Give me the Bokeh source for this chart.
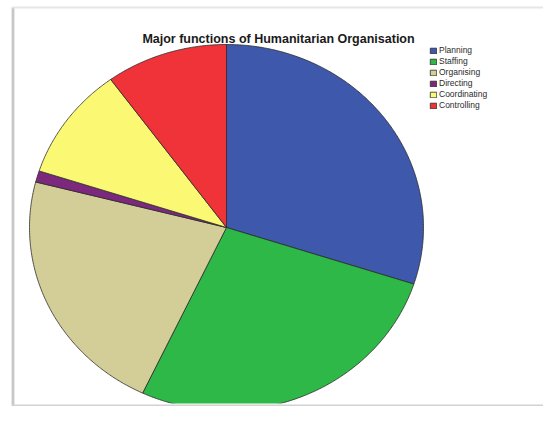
import numpy as np
from bokeh.plotting import figure
from bokeh.models import Range1d, Label, BoxAnnotation
from bokeh.embed import file_html
from bokeh.resources import INLINE

# ---- data ----
categories = ["Planning", "Staffing", "Organising", "Directing", "Coordinating", "Controlling"]
values = [30, 27, 22, 1, 10, 10]
colors = ["#3E58AC", "#2EB848", "#D3CE97", "#7C287D", "#FBF873", "#EF3338"]
title_text = "Major functions of Humanitarian Organisation"

# ---- layout ----
W, H = 543, 406
cx, cy = 226, 227          # pie centre in canvas px
rx, ry = 197, 183          # px per data unit in x / y

p = figure(width=W, height=H, output_backend="svg", toolbar_location=None,
           x_axis_location=None, y_axis_location=None,
           min_border_left=0, min_border_right=0, min_border_top=0,
           min_border_bottom=0)
p.x_range = Range1d(-cx / rx, (W - cx) / rx)
p.y_range = Range1d(-(H - cy) / ry, cy / ry)
p.grid.visible = False
p.outline_line_color = None
p.background_fill_color = "white"
p.border_fill_color = "white"

# pie slices (clockwise from 12 o'clock)
total = float(sum(values))
fr = np.cumsum([0] + values) / total
for i, (cat, col) in enumerate(zip(categories, colors)):
    a0 = np.pi / 2 - 2 * np.pi * fr[i]
    a1 = np.pi / 2 - 2 * np.pi * fr[i + 1]
    n = max(3, int(abs(a1 - a0) * 120))
    t = np.linspace(a0, a1, n)
    xs = np.concatenate([[0], np.cos(t), [0]])
    ys = np.concatenate([[0], np.sin(t), [0]])
    p.patch(xs, ys, fill_color=col, line_color="#2b2b2b", line_width=0.8,
            legend_label=cat)


def canvas_box(l, r, t, b, color):
    p.add_layout(BoxAnnotation(left=l, right=r, top=t, bottom=b,
                               left_units="canvas", right_units="canvas",
                               top_units="canvas", bottom_units="canvas",
                               fill_color=color, fill_alpha=1, line_color=None))


# clip of the chart area at the bottom
canvas_box(14, W, 403, H, "white")

# title
p.add_layout(Label(x=(278 - cx) / rx, y=(cy - 38) / ry, text=title_text,
                   text_align="center", text_baseline="alphabetic",
                   text_font="Liberation Sans", text_font_style="bold",
                   text_font_size="12.5px", text_color="#1a1a1a"))

# legend
lg = p.legend[0]
lg.location = (429, H - 110)
lg.padding = 0
lg.margin = 0
lg.spacing = 1
lg.glyph_width = 8
lg.glyph_height = 7
lg.label_height = 8
lg.label_standoff = 2
lg.label_text_font = "Liberation Sans"
lg.label_text_font_size = "8.5px"
lg.label_text_color = "#2a2a2a"
lg.border_line_color = None
lg.background_fill_alpha = 0

# outer frame with a soft shadow on the left and bottom
canvas_box(11, 14, 7, H, "#d2d2d2")
canvas_box(12, 13, 7, H, "#bdbdbd")
canvas_box(12, W, 6, 8, "#e6e6e6")
canvas_box(12, W, 404, H, "#d2d2d2")

open("out.html", "w").write(file_html(p, INLINE))
